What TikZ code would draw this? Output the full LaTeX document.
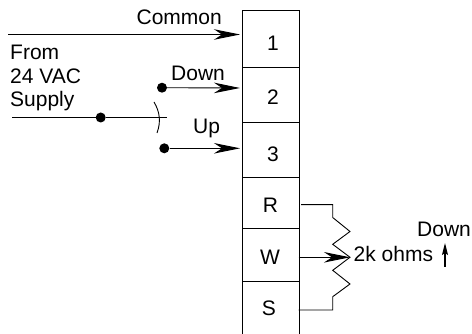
\documentclass[tikz,border=0pt]{standalone}
\usepackage{fontspec}
\setmainfont{Liberation Sans}
\usetikzlibrary{arrows.meta}
\tikzset{
 x=1pt,y=-1pt,
 wire/.style={line width=0.9pt,black},
 arr/.style={wire,-{Stealth[length=26pt,width=10.5pt,inset=8pt]}},
 lbl/.style={font=\fontsize{21}{24}\selectfont,inner sep=0pt,text=black},
 cell/.style={draw=black,line width=0.9pt,minimum width=57pt,inner sep=0pt,anchor=north west},
 dot/.style={circle,fill=black,inner sep=0pt,minimum size=10pt},
}
\begin{document}
\begin{tikzpicture}
\useasboundingbox (0,0) rectangle (472,334);
\node[cell,minimum height=57pt] (c1) at (241.5,10) {};
\node[cell,minimum height=55.5pt] (c2) at (241.5,67) {};
\node[cell,minimum height=54.5pt] (c3) at (241.5,122.5) {};
\node[cell,minimum height=51pt] (cr) at (241.5,177) {};
\node[cell,minimum height=53.5pt] (cw) at (241.5,228) {};
\node[cell,minimum height=60pt] (cs) at (241.5,281.5) {};
\node[lbl] at (273,43) {1};
\node[lbl] at (273,97) {2};
\node[lbl] at (273,154) {3};
\node[lbl] at (270.5,205) {R};
\node[lbl] at (270,257) {W};
\node[lbl] at (269,308) {S};
\coordinate (c1in) at (240,34.5);
\coordinate (c2in) at (240,88);
\coordinate (c3in) at (240,148.3);
\coordinate (cstart) at (8,34.5);
\draw[arr] (cstart) -- (c1in);
\node[dot] (dd) at (162,87.7) {};
\node[dot] (du) at (164.3,148.3) {};
\node[dot] (ds) at (100.7,117.5) {};
\draw[arr] (dd) -- (c2in);
\draw[arr] (du) -- (c3in);
\coordinate (sl) at (12,117.5);
\coordinate (sr) at (166.7,117.5);
\draw[wire] (sl) -- (ds) -- (sr);
\coordinate (a1) at (154,102);
\coordinate (a2) at (157,133);
\draw[wire] (a1) .. controls (160,112) and (161,122) .. (a2);
\node[lbl,anchor=base east] at (222,25) {Common};
\node[lbl,anchor=base west] at (10,60) {From};
\node[lbl,anchor=base west] at (10,84) {24 VAC};
\node[lbl,anchor=base west] at (10,107) {Supply};
\node[lbl,anchor=base west] at (171,81) {Down};
\node[lbl,anchor=base west] at (193,134) {Up};
\coordinate (rs) at (301,204.7);
\coordinate (ss) at (298.5,310);
\coordinate (pw) at (350,257.3);
\coordinate (wo) at (298.5,257.3);
\draw[wire] (rs) -- (332.7,204.7) -- (332.7,217.5) -- (350,231.5) -- (332.7,244.3) -- (pw) -- (332.7,270.3) -- (350,284) -- (332.7,296.7) -- (332.7,310) -- (ss);
\draw[arr] (wo) -- (pw);
\node[lbl,anchor=base west] at (353.5,261.5) {2k ohms};
\node[lbl,anchor=base west] at (417,237) {Down};
\coordinate (ub) at (445,267);
\coordinate (ut) at (445,243);
\draw[wire,line width=1.3pt,-{Stealth[length=12pt,width=6pt,inset=2pt]}] (ub) -- (ut);
\end{tikzpicture}
\end{document}
